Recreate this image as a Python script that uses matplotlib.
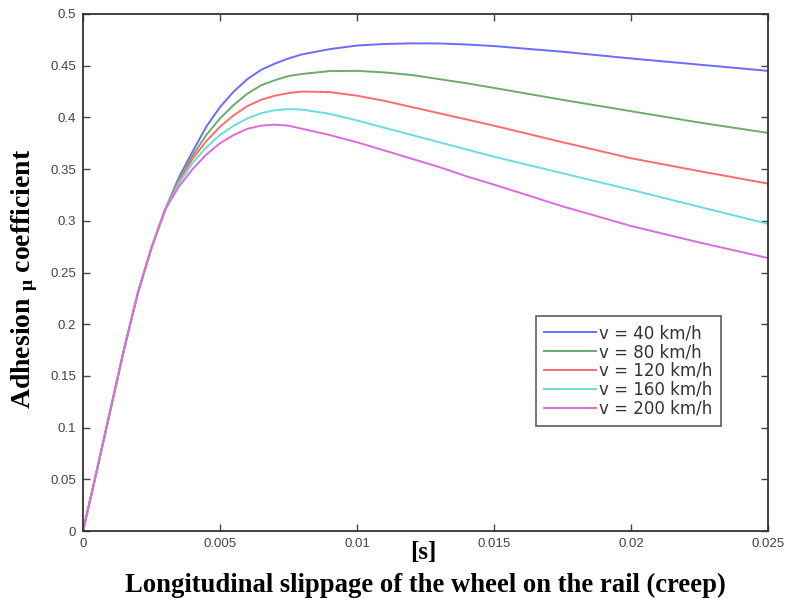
import matplotlib
matplotlib.use("Agg")
import matplotlib.pyplot as plt

plt.rcParams['mathtext.fontset'] = 'custom'
plt.rcParams['mathtext.rm'] = 'Liberation Serif:bold'
plt.rcParams['mathtext.it'] = 'Liberation Serif:bold'
plt.rcParams['mathtext.bf'] = 'Liberation Serif:bold'

# creep values
slip = [0, 0.0005, 0.001, 0.0015, 0.002, 0.0025, 0.003,
        0.0035, 0.004, 0.0045, 0.005, 0.0055, 0.006, 0.0065, 0.007, 0.0075,
        0.008, 0.009, 0.010, 0.011, 0.012, 0.013, 0.014, 0.015, 0.0175,
        0.020, 0.0225, 0.025]

common = [0, 0.058, 0.117, 0.176, 0.230, 0.274, 0.311]

mu_40 = common + [0.342, 0.367, 0.391, 0.410, 0.425, 0.437, 0.446, 0.452, 0.457,
                  0.461, 0.466, 0.4695, 0.471, 0.4716, 0.4715, 0.4705, 0.469,
                  0.4635, 0.457, 0.451, 0.445]
mu_80 = common + [0.340, 0.363, 0.383, 0.399, 0.412, 0.423, 0.431, 0.436, 0.440,
                  0.442, 0.4448, 0.445, 0.4435, 0.441, 0.437, 0.433, 0.4285,
                  0.417, 0.406, 0.395, 0.385]
mu_120 = common + [0.338, 0.360, 0.377, 0.391, 0.402, 0.411, 0.417, 0.421, 0.4235,
                   0.425, 0.4245, 0.421, 0.416, 0.410, 0.404, 0.398, 0.392,
                   0.376, 0.3605, 0.348, 0.336]
mu_160 = common + [0.336, 0.356, 0.371, 0.383, 0.392, 0.399, 0.404, 0.407, 0.408,
                   0.4075, 0.4035, 0.397, 0.390, 0.383, 0.376, 0.369, 0.362,
                   0.346, 0.330, 0.3135, 0.297]
mu_200 = common + [0.333, 0.350, 0.364, 0.375, 0.383, 0.389, 0.392, 0.393, 0.392,
                   0.389, 0.383, 0.376, 0.368, 0.360, 0.352, 0.343, 0.335,
                   0.314, 0.295, 0.279, 0.264]

labels = ['v = 40 km/h', 'v = 80 km/h', 'v = 120 km/h', 'v = 160 km/h', 'v = 200 km/h']
series = [mu_40, mu_80, mu_120, mu_160, mu_200]
colors = ['#6b6bff', '#6aad6a', '#ff6b6b', '#6adcdc', '#dc6bdc']

xticks = [0, 0.005, 0.01, 0.015, 0.02, 0.025]
xticklabels = ['0', '0.005', '0.01', '0.015', '0.02', '0.025']
yticks = [0, 0.05, 0.1, 0.15, 0.2, 0.25, 0.3, 0.35, 0.4, 0.45, 0.5]
yticklabels = ['0', '0.05', '0.1', '0.15', '0.2', '0.25', '0.3', '0.35', '0.4', '0.45', '0.5']

fig = plt.figure(figsize=(7.85, 6.03), dpi=100)
ax = fig.add_axes([83/785, 1-531/603, 685/785, 517/603])

for y, lab, c in zip(series, labels, colors):
    ax.plot(slip, y, color=c, lw=1.4, label=lab)

ax.set_xlim(0, 0.025)
ax.set_ylim(0, 0.5)
ax.set_xticks(xticks)
ax.set_xticklabels(xticklabels)
ax.set_yticks(yticks)
ax.set_yticklabels(yticklabels)
ax.tick_params(direction='in', length=5, width=1, top=True, right=True,
               labelsize=9.5, labelcolor='#444444', color='#444444', pad=5)
for lab in ax.get_xticklabels() + ax.get_yticklabels():
    lab.set_family('Liberation Sans')
for s in ax.spines.values():
    s.set_linewidth(1.3)
    s.set_color('#333333')

leg = ax.legend(loc='upper left', bbox_to_anchor=(0.661, 0.416), borderaxespad=0,
                fancybox=False, frameon=True, edgecolor='#333333',
                prop={'family': 'DejaVu Sans', 'size': 12},
                handlelength=3.1, handletextpad=0.2, labelspacing=0.05,
                borderpad=0.5)
leg.get_frame().set_linewidth(1.2)
for t in leg.get_texts():
    t.set_color('#333333')

fig.text(25/785, 1-279/603, r'Adhesion $_{\mathrm{μ}}$ coefficient', rotation=90,
         ha='center', va='center', family='Liberation Serif', weight='bold', fontsize=20)
fig.text(423/785, 1-553/603, '[s]', ha='center', va='center',
         family='Liberation Serif', weight='bold', fontsize=18)
fig.text(425/785, 1-585/603, 'Longitudinal slippage of the wheel on the rail (creep)',
         ha='center', va='center', family='Liberation Serif', weight='bold', fontsize=19.2)

fig.savefig('out.png', dpi=100)
